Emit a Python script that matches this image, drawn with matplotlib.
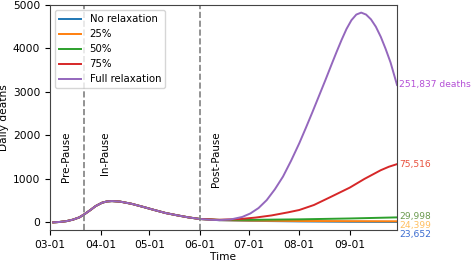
import numpy as np
import pandas as pd
import matplotlib
matplotlib.use('Agg')
import matplotlib.pyplot as plt
import matplotlib.dates as mdates
import matplotlib.transforms as mtransforms

# Shared part of the curve (same for every scenario), Mar 3 -> Jun 1
shared_dates = ['2020-03-03', '2020-03-07', '2020-03-11', '2020-03-15', '2020-03-19',
                '2020-03-22', '2020-03-26', '2020-03-29', '2020-04-02', '2020-04-05',
                '2020-04-08', '2020-04-13', '2020-04-20', '2020-04-27', '2020-05-04',
                '2020-05-11', '2020-05-18', '2020-05-25', '2020-06-01']
shared_vals = [0, 10, 28, 62, 115, 184, 290, 375, 453, 482,
               490, 478, 428, 358, 285, 215, 163, 115, 78]

# Scenario curves after the pause ends
full_dates = ['2020-06-08', '2020-06-13', '2020-06-20', '2020-06-27', '2020-07-02',
              '2020-07-07', '2020-07-12', '2020-07-17', '2020-07-22', '2020-07-27',
              '2020-08-01', '2020-08-05', '2020-08-09', '2020-08-13', '2020-08-17',
              '2020-08-21', '2020-08-24', '2020-08-27', '2020-08-30', '2020-09-02',
              '2020-09-05', '2020-09-08', '2020-09-11', '2020-09-14', '2020-09-17',
              '2020-09-20', '2020-09-23', '2020-09-26', '2020-09-30']
full_vals = [58, 52, 68, 125, 206, 330, 512, 760, 1053, 1420,
             1820, 2170, 2530, 2900, 3270, 3650, 3930, 4200, 4450, 4650,
             4780, 4825, 4780, 4670, 4500, 4270, 3990, 3680, 3160]

p75_dates = ['2020-06-13', '2020-06-25', '2020-07-05', '2020-07-15', '2020-07-25',
             '2020-08-01', '2020-08-10', '2020-08-20', '2020-09-01', '2020-09-10',
             '2020-09-20', '2020-09-25', '2020-09-30']
p75_vals = [60, 75, 110, 160, 230, 285, 400, 580, 800, 1000, 1200, 1280, 1340]

low_dates = ['2020-06-13', '2020-07-01', '2020-08-01', '2020-09-01', '2020-09-30']
p50_vals = [58, 58, 70, 90, 115]
p25_vals = [52, 42, 32, 28, 25]
none_vals = [50, 36, 22, 14, 10]

names = ['No relaxation', '25%', '50%', '75%', 'Full relaxation']
totals = ['23,652', '24,399', '29,998', '75,516', '251,837 deaths']
line_colors = ['tab:blue', 'tab:orange', 'tab:green', 'tab:red', 'tab:purple']
label_colors = ['#3a6bd0', '#ffbf5f', '#6b9a4f', '#e8503c', '#b44fd6']
label_y = [-290, -80, 130, None, None]  # None -> at the line's end

tails = [(low_dates, none_vals), (low_dates, p25_vals), (low_dates, p50_vals),
         (p75_dates, p75_vals), (full_dates, full_vals)]

fig = plt.figure(figsize=(4.73, 2.63), dpi=100)
ax = fig.add_axes([0.1057, 0.1255, 0.7337, 0.8555])

for name, (d, v), c in zip(names, tails, line_colors):
    dates = pd.to_datetime(shared_dates + d)
    vals = shared_vals + v
    ax.plot(dates, vals, color=c, lw=1.4, label=name)

for day in ['2020-03-22', '2020-06-01']:
    ax.axvline(pd.Timestamp(day), color='gray', ls='--', lw=1.2)

ax.text(pd.Timestamp('2020-03-11'), 2100, 'Pre-Pause', rotation=90, ha='center', va='top', fontsize=7.4)
ax.text(pd.Timestamp('2020-04-04'), 2100, 'In-Pause', rotation=90, ha='center', va='top', fontsize=7.4)
ax.text(pd.Timestamp('2020-06-11'), 2100, 'Post-Pause', rotation=90, ha='center', va='top', fontsize=7.4)

trans = mtransforms.blended_transform_factory(ax.transAxes, ax.transData)
for (d, v), t, c, ly in zip(tails, totals, label_colors, label_y):
    y = v[-1] if ly is None else ly
    ax.text(1.006, y, t, transform=trans, color=c, fontsize=6.6, va='center', ha='left')

ax.set_xlim(pd.Timestamp('2020-03-01'), pd.Timestamp('2020-09-30'))
ax.set_ylim(-175, 5000)
ax.set_yticks([0, 1000, 2000, 3000, 4000, 5000])
ax.xaxis.set_major_locator(mdates.MonthLocator())
ax.xaxis.set_major_formatter(mdates.DateFormatter('%m-%d'))
ax.tick_params(labelsize=7.7, length=3.5)
ax.set_xlabel('Time', fontsize=7.7, labelpad=2)
ax.set_ylabel('Daily deaths', fontsize=7.7, labelpad=3)
for s in ax.spines.values():
    s.set_color('#444444')

ax.legend(loc='upper left', fontsize=7.3, handlelength=2.2)

fig.savefig('out.png', dpi=100)
